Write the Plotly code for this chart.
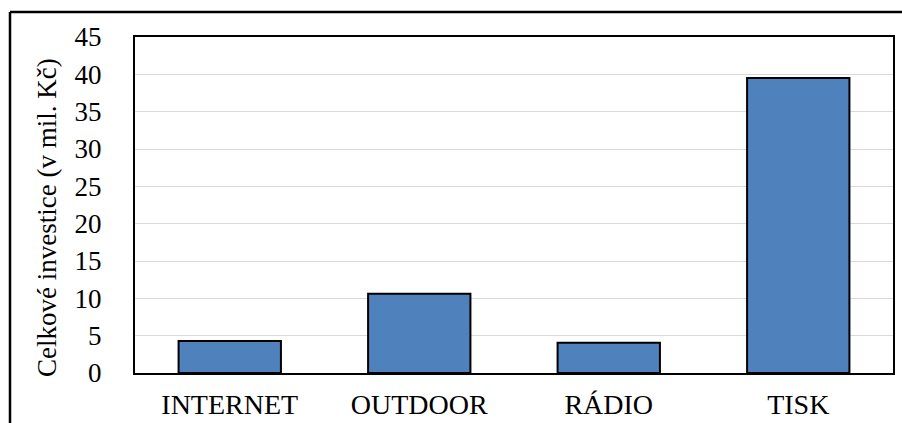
import plotly.graph_objects as go

categories = ["INTERNET", "OUTDOOR", "RÁDIO", "TISK"]
values = [4.3, 10.6, 4.05, 39.5]
y_ticks = [0, 5, 10, 15, 20, 25, 30, 35, 40, 45]
y_title = "Celkové investice (v mil. Kč)"

FONT = "Liberation Serif, Times New Roman, serif"
W, H = 902, 423
ML, MR, MT, MB = 135, 9, 37, 50
pw = W - ML - MR
ph = H - MT - MB

fig = go.Figure()
fig.add_trace(go.Bar(
    x=categories, y=values,
    marker=dict(color="#4F81BD", line=dict(color="black", width=2)),
))

fx = lambda px: (px - ML) / pw
fy = lambda py: (H - MB - py) / ph

fig.update_layout(
    width=W, height=H,
    margin=dict(l=ML, r=MR, t=MT, b=MB, pad=0, autoexpand=False),
    paper_bgcolor="white", plot_bgcolor="white",
    bargap=0.46,
    showlegend=False,
    font=dict(family=FONT, color="black", size=27),
    xaxis=dict(
        automargin=False,
        showline=True, linecolor="black", linewidth=2, mirror=True,
        ticks="", showgrid=False,
        tickfont=dict(size=28, family=FONT, color="black"),
        ticklabelstandoff=5,
    ),
    yaxis=dict(
        automargin=False,
        range=[0, 45], tickvals=y_ticks,
        showline=True, linecolor="black", linewidth=2, mirror=True,
        showgrid=True, gridcolor="#D9D9D9", gridwidth=1,
        zeroline=False, ticks="",
        tickfont=dict(size=27, family=FONT, color="black"),
        ticklabelstandoff=26,
    ),
    annotations=[dict(
        text=y_title, textangle=-90, showarrow=False,
        xref="paper", yref="paper", x=fx(47), y=fy(218),
        xanchor="center", yanchor="middle",
        font=dict(size=27, family=FONT, color="black"),
    )],
    shapes=[
        dict(type="line", xref="paper", yref="paper",
             x0=fx(10), x1=fx(10), y0=fy(430), y1=fy(12),
             line=dict(color="black", width=2.5)),
        dict(type="line", xref="paper", yref="paper",
             x0=fx(10), x1=fx(910), y0=fy(12), y1=fy(12),
             line=dict(color="black", width=2.5)),
    ],
)

fig.write_html("out.html")
